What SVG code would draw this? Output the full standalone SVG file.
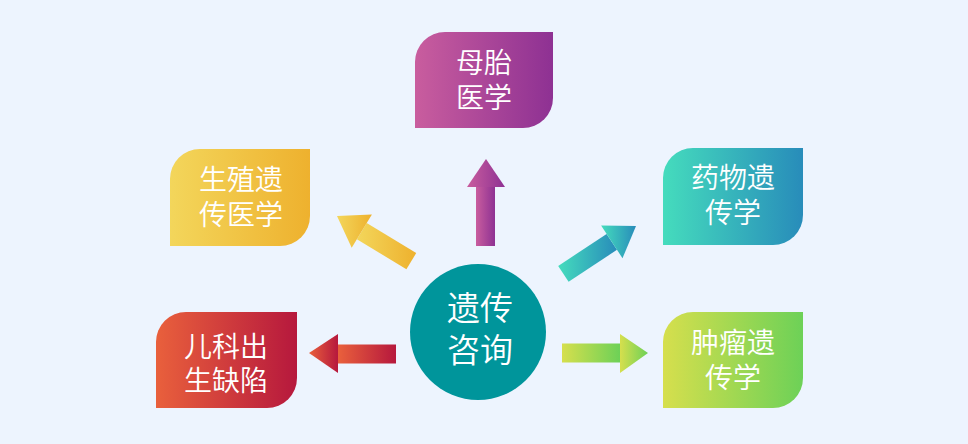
<svg xmlns="http://www.w3.org/2000/svg" width="968" height="444" viewBox="0 0 968 444">
<defs>
<linearGradient id="gP" x1="0" y1="0" x2="1" y2="0"><stop offset="0" stop-color="#c95d9e"/><stop offset="1" stop-color="#8e3193"/></linearGradient>
<linearGradient id="gY" x1="0" y1="0" x2="1" y2="0"><stop offset="0" stop-color="#f3d65b"/><stop offset="1" stop-color="#eeb12e"/></linearGradient>
<linearGradient id="gR" x1="0" y1="0" x2="1" y2="0"><stop offset="0" stop-color="#e9603c"/><stop offset="1" stop-color="#b6183d"/></linearGradient>
<linearGradient id="gT" x1="0" y1="0" x2="1" y2="0"><stop offset="0" stop-color="#45dcbd"/><stop offset="1" stop-color="#288cba"/></linearGradient>
<linearGradient id="gG" x1="0" y1="0" x2="1" y2="0"><stop offset="0" stop-color="#d6df4d"/><stop offset="1" stop-color="#6dd157"/></linearGradient>
</defs>
<style>
.t{fill:#fff;font-family:"Noto Sans CJK SC","Noto Sans CJK TC",sans-serif;font-size:28px;font-weight:350;text-anchor:middle}
.c{font-size:33px}
</style>
<rect width="968" height="444" fill="#edf4fe"/>
<g id="connectors">
<polygon points="476,246 495,246 495,187 476,187" fill="url(#gP)"/>
<polygon points="467,187 505,187 486,159" fill="url(#gP)"/>
<polygon points="562,343.5 620,343.5 620,362.5 562,362.5" fill="url(#gG)"/>
<polygon points="620,334 648,353 620,373" fill="url(#gG)"/>
<polygon points="338,344.5 396,344.5 396,363.5 338,363.5" fill="url(#gR)"/>
<polygon points="338,334 309,353 338,373" fill="url(#gR)"/>
<polygon points="558.2,265.9 606.6,234 617,249.8 568.6,281.7" fill="url(#gT)"/>
<polygon points="601.1,225.6 636,226 622.5,258.2" fill="url(#gT)"/>
<polygon points="416.2,253.1 366.7,223 356.9,239.2 406.4,269.3" fill="url(#gY)"/>
<polygon points="371.9,214.5 337,216 351.7,247.8" fill="url(#gY)"/>
</g>
<g id="center">
<circle cx="478" cy="332" r="68" fill="#00959b"/>
<text class="t c"><tspan x="480" y="320">遗传</tspan><tspan x="480" y="362">咨询</tspan></text>
</g>
<g id="n-top">
<path d="M415,128 V62 A30,30 0 0 1 445,32 H553 V98 A30,30 0 0 1 523,128 Z" fill="url(#gP)"/>
<text class="t"><tspan x="484" y="73">母胎</tspan><tspan x="484" y="108">医学</tspan></text>
</g>
<g id="n-ul">
<path d="M170,246 V179 A30,30 0 0 1 200,149 H310 V216 A30,30 0 0 1 280,246 Z" fill="url(#gY)"/>
<text class="t"><tspan x="241" y="190">生殖遗</tspan><tspan x="241" y="225">传医学</tspan></text>
</g>
<g id="n-ll">
<path d="M156,408 V342 A30,30 0 0 1 186,312 H297 V378 A30,30 0 0 1 267,408 Z" fill="url(#gR)"/>
<text class="t"><tspan x="226" y="357">儿科出</tspan><tspan x="226" y="391">生缺陷</tspan></text>
</g>
<g id="n-ur">
<path d="M663,245 V178 A30,30 0 0 1 693,148 H803 V215 A30,30 0 0 1 773,245 Z" fill="url(#gT)"/>
<text class="t"><tspan x="733" y="188">药物遗</tspan><tspan x="733" y="223">传学</tspan></text>
</g>
<g id="n-lr">
<path d="M663,408 V342 A30,30 0 0 1 693,312 H803 V378 A30,30 0 0 1 773,408 Z" fill="url(#gG)"/>
<text class="t"><tspan x="733" y="353">肿瘤遗</tspan><tspan x="733" y="388">传学</tspan></text>
</g>
</svg>
